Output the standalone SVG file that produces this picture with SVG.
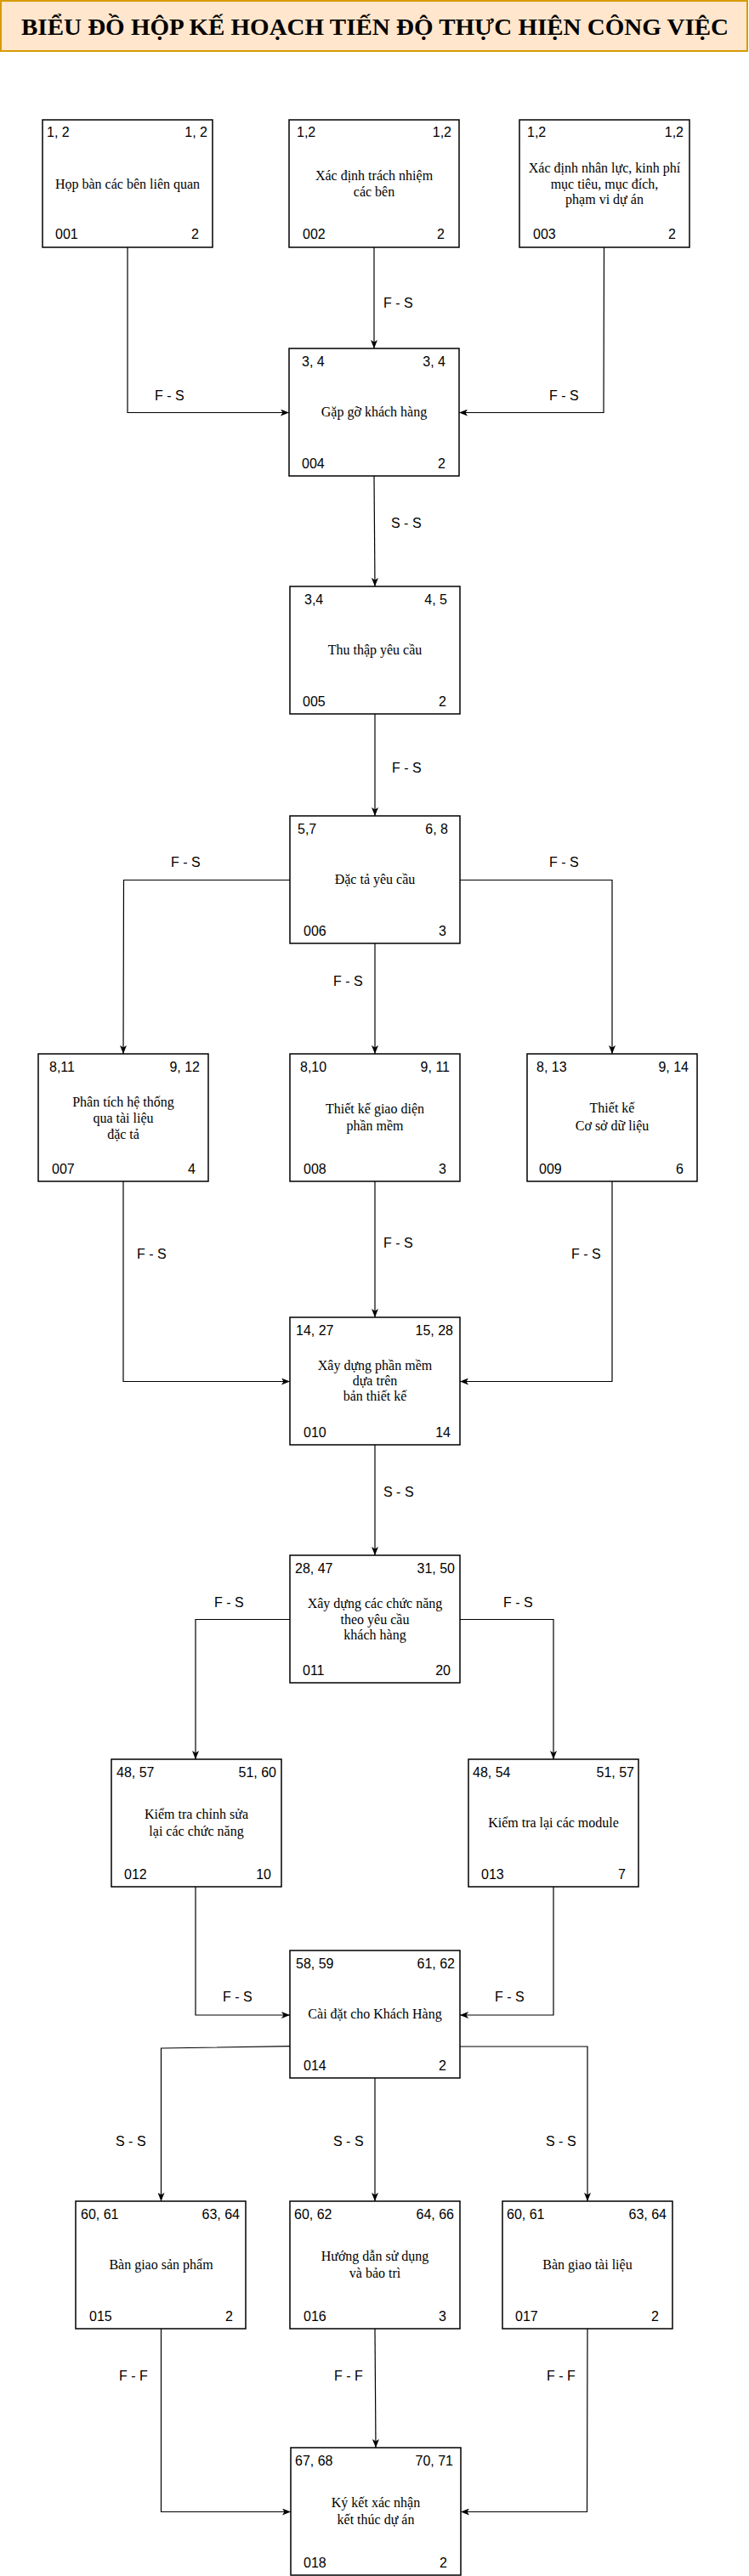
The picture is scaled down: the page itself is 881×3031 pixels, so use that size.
<svg xmlns="http://www.w3.org/2000/svg" width="881" height="3031" viewBox="0 0 881 3031">
<style>
.box{fill:#fff;stroke:#000;stroke-width:1.5}
.n{font-family:"Liberation Sans",Arial,sans-serif;font-size:16px;fill:#000}
.e{text-anchor:end}
.t{font-family:"Liberation Serif","Times New Roman",serif;font-size:16px;fill:#000;text-anchor:middle}
.c{fill:none;stroke:#000;stroke-width:1.2;marker-end:url(#ar)}
.title{font-family:"Liberation Serif","Times New Roman",serif;font-size:28px;font-weight:bold;fill:#000}
</style>
<defs>
<marker id="ar" viewBox="0 0 10 8" refX="10" refY="4" markerWidth="10" markerHeight="8" markerUnits="userSpaceOnUse" orient="auto">
<path d="M0,0 L10,4 L0,8 L2.5,4 Z" fill="#000"/>
</marker>
</defs>
<rect width="881" height="3031" fill="#fff"/>
<g id="title">
<rect x="1" y="1" width="878" height="59" fill="#ffe6cc" stroke="#d79b00" stroke-width="2"/>
<text class="title" x="25" y="41" textLength="832" lengthAdjust="spacingAndGlyphs">BIỂU ĐỒ HỘP KẾ HOẠCH TIẾN ĐỘ THỰC HIỆN CÔNG VIỆC</text>
</g>
<g id="connectors">
<polyline class="c" points="150,291 150,485.5 340,485.5"/>
<polyline class="c" points="440,291 440,410"/>
<polyline class="c" points="710.5,291 710,485.5 540,485.5"/>
<polyline class="c" points="440,560 441,690"/>
<polyline class="c" points="441,840 441,960"/>
<polyline class="c" points="341,1035.5 145.5,1035.5 145,1240"/>
<polyline class="c" points="441,1110 441,1240"/>
<polyline class="c" points="541,1035.5 720,1035.5 720,1240"/>
<polyline class="c" points="145,1390 145,1625.5 341,1625.5"/>
<polyline class="c" points="441,1390 441,1550"/>
<polyline class="c" points="720,1390 720,1625.5 541,1625.5"/>
<polyline class="c" points="441,1700 441,1830"/>
<polyline class="c" points="341,1905.5 230,1905.5 230,2070"/>
<polyline class="c" points="541,1905.5 651,1905.5 651,2070"/>
<polyline class="c" points="230,2220 230,2371 341,2371"/>
<polyline class="c" points="651,2220 651,2371 541,2371"/>
<polyline class="c" points="341,2407.7 189.5,2410 189.5,2590"/>
<polyline class="c" points="441,2445 441,2590"/>
<polyline class="c" points="541,2408 691,2408 691,2590"/>
<polyline class="c" points="189.5,2740 189.5,2955.5 342,2955.5"/>
<polyline class="c" points="441,2740 442,2880"/>
<polyline class="c" points="691,2740 690.5,2955.5 542,2955.5"/>
<g class="n">
<text x="182" y="471">F - S</text>
<text x="451" y="362">F - S</text>
<text x="646" y="471">F - S</text>
<text x="460" y="621">S - S</text>
<text x="461" y="909">F - S</text>
<text x="201" y="1020">F - S</text>
<text x="646" y="1020">F - S</text>
<text x="392" y="1160">F - S</text>
<text x="161" y="1481">F - S</text>
<text x="451" y="1468">F - S</text>
<text x="672" y="1481">F - S</text>
<text x="451" y="1761">S - S</text>
<text x="252" y="1891">F - S</text>
<text x="592" y="1891">F - S</text>
<text x="262" y="2355">F - S</text>
<text x="582" y="2355">F - S</text>
<text x="136" y="2525">S - S</text>
<text x="392" y="2525">S - S</text>
<text x="642" y="2525">S - S</text>
<text x="140" y="2801">F - F</text>
<text x="393" y="2801">F - F</text>
<text x="643" y="2801">F - F</text>
</g>
</g>
<g id="n001"><rect class="box" x="50" y="141" width="200" height="150"/>
<text class="n" x="55" y="161">1, 2</text><text class="n e" x="244" y="161">1, 2</text>
<text class="t" x="150" y="222">Họp bàn các bên liên quan</text>
<text class="n" x="65" y="281">001</text><text class="n e" x="234" y="281">2</text></g>
<g id="n002"><rect class="box" x="340" y="141" width="200" height="150"/>
<text class="n" x="349" y="161">1,2</text><text class="n e" x="531" y="161">1,2</text>
<text class="t" x="440" y="212">Xác định trách nhiệm</text><text class="t" x="440" y="231">các bên</text>
<text class="n" x="356" y="281">002</text><text class="n e" x="523" y="281">2</text></g>
<g id="n003"><rect class="box" x="611" y="141" width="200" height="150"/>
<text class="n" x="620" y="161">1,2</text><text class="n e" x="804" y="161">1,2</text>
<text class="t" x="711" y="203">Xác định nhân lực, kinh phí</text><text class="t" x="711" y="222">mục tiêu, mục đích,</text><text class="t" x="711" y="240">phạm vi dự án</text>
<text class="n" x="627" y="281">003</text><text class="n e" x="795" y="281">2</text></g>
<g id="n004"><rect class="box" x="340" y="410" width="200" height="150"/>
<text class="n" x="355" y="431">3, 4</text><text class="n e" x="524" y="431">3, 4</text>
<text class="t" x="440" y="490">Gặp gỡ khách hàng</text>
<text class="n" x="355" y="551">004</text><text class="n e" x="524" y="551">2</text></g>
<g id="n005"><rect class="box" x="341" y="690" width="200" height="150"/>
<text class="n" x="358" y="711">3,4</text><text class="n e" x="526" y="711">4, 5</text>
<text class="t" x="441" y="770">Thu thập yêu cầu</text>
<text class="n" x="356" y="831">005</text><text class="n e" x="525" y="831">2</text></g>
<g id="n006"><rect class="box" x="341" y="960" width="200" height="150"/>
<text class="n" x="350" y="981">5,7</text><text class="n e" x="527" y="981">6, 8</text>
<text class="t" x="441" y="1040">Đặc tả yêu cầu</text>
<text class="n" x="357" y="1101">006</text><text class="n e" x="525" y="1101">3</text></g>
<g id="n007"><rect class="box" x="45" y="1240" width="200" height="150"/>
<text class="n" x="58" y="1261">8,11</text><text class="n e" x="235" y="1261">9, 12</text>
<text class="t" x="145" y="1302">Phân tích hệ thống</text><text class="t" x="145" y="1321">qua tài liệu</text><text class="t" x="145" y="1340">đặc tả</text>
<text class="n" x="61" y="1381">007</text><text class="n e" x="230" y="1381">4</text></g>
<g id="n008"><rect class="box" x="341" y="1240" width="200" height="150"/>
<text class="n" x="353" y="1261">8,10</text><text class="n e" x="529" y="1261">9, 11</text>
<text class="t" x="441" y="1310">Thiết kế giao diện</text><text class="t" x="441" y="1330">phần mềm</text>
<text class="n" x="357" y="1381">008</text><text class="n e" x="525" y="1381">3</text></g>
<g id="n009"><rect class="box" x="620" y="1240" width="200" height="150"/>
<text class="n" x="631" y="1261">8, 13</text><text class="n e" x="810" y="1261">9, 14</text>
<text class="t" x="720" y="1309">Thiết kế</text><text class="t" x="720" y="1330">Cơ sở dữ liệu</text>
<text class="n" x="634" y="1381">009</text><text class="n e" x="804" y="1381">6</text></g>
<g id="n010"><rect class="box" x="341" y="1550" width="200" height="150"/>
<text class="n" x="348" y="1571">14, 27</text><text class="n e" x="533" y="1571">15, 28</text>
<text class="t" x="441" y="1612">Xây dựng phần mềm</text><text class="t" x="441" y="1630">dựa trên</text><text class="t" x="441" y="1648">bản thiết kế</text>
<text class="n" x="357" y="1691">010</text><text class="n e" x="530" y="1691">14</text></g>
<g id="n011"><rect class="box" x="341" y="1830" width="200" height="150"/>
<text class="n" x="347" y="1851">28, 47</text><text class="n e" x="535" y="1851">31, 50</text>
<text class="t" x="441" y="1892">Xây dựng các chức năng</text><text class="t" x="441" y="1911">theo yêu cầu</text><text class="t" x="441" y="1929">khách hàng</text>
<text class="n" x="356" y="1971">011</text><text class="n e" x="530" y="1971">20</text></g>
<g id="n012"><rect class="box" x="131" y="2070" width="200" height="150"/>
<text class="n" x="137" y="2091">48, 57</text><text class="n e" x="325" y="2091">51, 60</text>
<text class="t" x="231" y="2140">Kiểm tra chỉnh sửa</text><text class="t" x="231" y="2160">lại các chức năng</text>
<text class="n" x="146" y="2211">012</text><text class="n e" x="319" y="2211">10</text></g>
<g id="n013"><rect class="box" x="551" y="2070" width="200" height="150"/>
<text class="n" x="556" y="2091">48, 54</text><text class="n e" x="746" y="2091">51, 57</text>
<text class="t" x="651" y="2150">Kiểm tra lại các module</text>
<text class="n" x="566" y="2211">013</text><text class="n e" x="736" y="2211">7</text></g>
<g id="n014"><rect class="box" x="341" y="2295" width="200" height="150"/>
<text class="n" x="348" y="2316">58, 59</text><text class="n e" x="535" y="2316">61, 62</text>
<text class="t" x="441" y="2375">Cài đặt cho Khách Hàng</text>
<text class="n" x="357" y="2436">014</text><text class="n e" x="525" y="2436">2</text></g>
<g id="n015"><rect class="box" x="89" y="2590" width="200" height="150"/>
<text class="n" x="95" y="2611">60, 61</text><text class="n e" x="282" y="2611">63, 64</text>
<text class="t" x="189.5" y="2670">Bàn giao sản phẩm</text>
<text class="n" x="105" y="2731">015</text><text class="n e" x="274" y="2731">2</text></g>
<g id="n016"><rect class="box" x="341" y="2590" width="200" height="150"/>
<text class="n" x="346" y="2611">60, 62</text><text class="n e" x="534" y="2611">64, 66</text>
<text class="t" x="441" y="2660">Hướng dẫn sử dụng</text><text class="t" x="441" y="2680">và bảo trì</text>
<text class="n" x="357" y="2731">016</text><text class="n e" x="525" y="2731">3</text></g>
<g id="n017"><rect class="box" x="591" y="2590" width="200" height="150"/>
<text class="n" x="596" y="2611">60, 61</text><text class="n e" x="784" y="2611">63, 64</text>
<text class="t" x="691" y="2670">Bàn giao tài liệu</text>
<text class="n" x="606" y="2731">017</text><text class="n e" x="775" y="2731">2</text></g>
<g id="n018"><rect class="box" x="342" y="2880" width="200" height="150"/>
<text class="n" x="347" y="2901">67, 68</text><text class="n e" x="533" y="2901">70, 71</text>
<text class="t" x="442" y="2950">Ký kết xác nhận</text><text class="t" x="442" y="2970">kết thúc dự án</text>
<text class="n" x="357" y="3021">018</text><text class="n e" x="526" y="3021">2</text></g>
</svg>
